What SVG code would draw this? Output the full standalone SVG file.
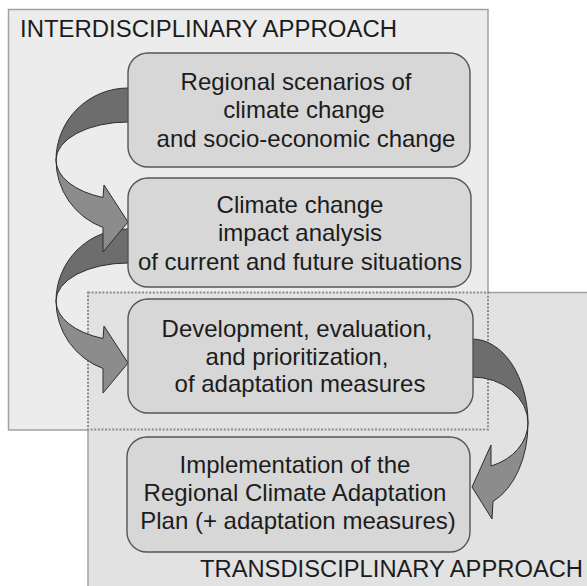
<svg xmlns="http://www.w3.org/2000/svg" width="587" height="586" viewBox="0 0 587 586">
  <style>
    .panel-fill { stroke: none; }
    .panel-edge { fill: none; stroke: #a2a2a2; stroke-width: 1.5; }
    .overlap { fill: none; stroke: #8c8c8c; stroke-width: 2; stroke-dasharray: 2 1.6; }
    .box { fill: #d7d7d7; stroke: #555; stroke-width: 1.4; }
    .label { font-family: "Liberation Sans", Arial, sans-serif; font-size: 24px; fill: #1c1c1c; text-anchor: middle; }
    .heading { font-family: "Liberation Sans", Arial, sans-serif; font-size: 23px; fill: #1c1c1c; }
    .back { fill: #6d6d6d; stroke: #2e2e2e; stroke-width: 1; stroke-linejoin: round; }
    .front { fill: #8c8c8c; stroke: #2e2e2e; stroke-width: 1; stroke-linejoin: round; }
  </style>
  <defs>
    <!-- curved arrow on the left side: back band, then front band with head -->
    <g id="curl-left">
      <path class="back" d="M 130 88 L 128 88 A 72 72 0 0 0 56 160 A 72 38 0 0 1 128 122 L 130 122 Z"/>
      <path class="front" d="M 56 160 A 72 72 0 0 0 103 227.5 L 103 252 L 128 222 L 104 185 L 103 197.5 A 72 40 0 0 1 56 160 Z"/>
    </g>
  </defs>

  <rect width="587" height="586" fill="#ffffff"/>

  <!-- background panels -->
  <g id="interdisciplinary">
    <rect class="panel-fill" x="8.5" y="9.5" width="479.5" height="420.5" fill="#ececec"/>
    <rect class="panel-edge" x="8.5" y="9.5" width="479.5" height="420.5"/>
    <text class="heading" x="20" y="37" textLength="377" lengthAdjust="spacingAndGlyphs">INTERDISCIPLINARY APPROACH</text>
  </g>
  <g id="transdisciplinary">
    <rect class="panel-fill" x="88" y="292" width="500" height="295" fill="#e2e2e2"/>
    <path class="panel-edge" d="M 88 587 L 88 430 M 488 292.5 L 588 292.5"/>
    <rect class="overlap" x="88" y="292.5" width="400" height="137"/>
    <text class="heading" x="200" y="577" textLength="383" lengthAdjust="spacingAndGlyphs">TRANSDISCIPLINARY APPROACH</text>
  </g>

  <!-- connectors -->
  <g id="connectors">
    <use href="#curl-left" transform="translate(0,141)"/>
    <use href="#curl-left"/>
    <path class="back" d="M 470 339 L 472 339 A 56 84 0 0 1 528 423 A 56 46 0 0 0 472 377 L 470 377 Z"/>
    <path class="front" d="M 528 423 A 56 84 0 0 1 493 501.5 L 492 519 L 472 487 L 491 445 L 491 466 A 56 46 0 0 0 528 423 Z"/>
  </g>

  <!-- steps -->
  <g id="scenarios">
    <rect class="box" x="128" y="53" width="342" height="114" rx="20"/>
    <text class="label" x="296" y="90">Regional scenarios of</text>
    <text class="label" x="304" y="118">climate change</text>
    <text class="label" x="306" y="147">and socio-economic change</text>
  </g>
  <g id="impact">
    <rect class="box" x="128" y="178" width="343" height="109" rx="20"/>
    <text class="label" x="300" y="213">Climate change</text>
    <text class="label" x="300" y="241">impact analysis</text>
    <text class="label" x="300" y="270">of current and future situations</text>
  </g>
  <g id="measures">
    <rect class="box" x="128" y="299" width="345" height="114" rx="20"/>
    <text class="label" x="297" y="337">Development, evaluation,</text>
    <text class="label" x="297" y="365">and prioritization,</text>
    <text class="label" x="300" y="392">of adaptation measures</text>
  </g>
  <g id="implementation">
    <rect class="box" x="127" y="437" width="343" height="115" rx="20"/>
    <text class="label" x="295" y="473">Implementation of the</text>
    <text class="label" x="295" y="501">Regional Climate Adaptation</text>
    <text class="label" x="298" y="529">Plan (+ adaptation measures)</text>
  </g>
</svg>
